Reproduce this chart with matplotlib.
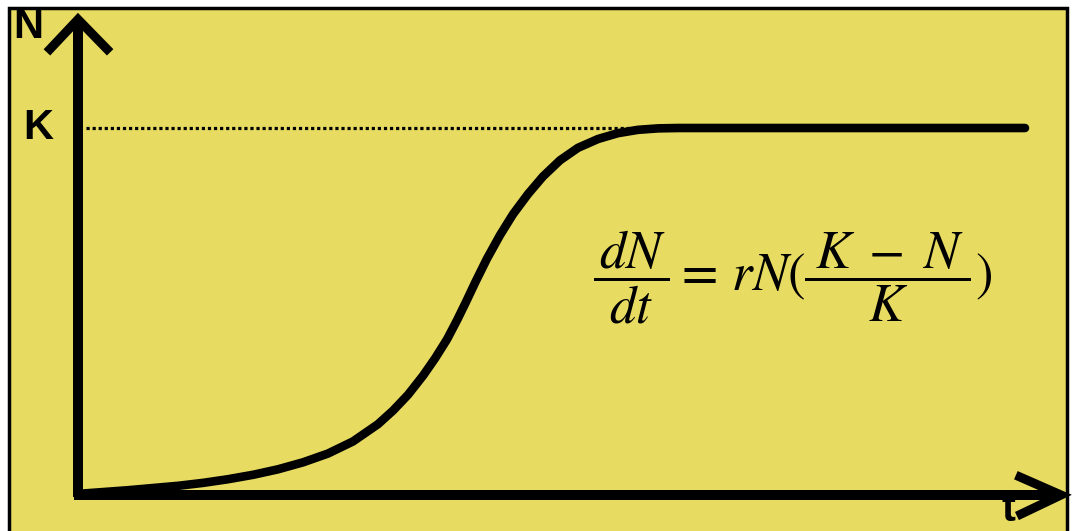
import matplotlib.pyplot as plt
from matplotlib.patches import Rectangle

# logistic growth curve (t, N), K = 100
t = [0, 0.25, 0.5, 0.75, 1.0, 1.25, 1.5, 1.75, 2.0, 2.25, 2.5, 2.75, 3.0, 3.15,
     3.3, 3.45, 3.57, 3.69, 3.79, 3.88, 3.97, 4.09, 4.22, 4.35, 4.5, 4.65,
     4.82, 5.0, 5.2, 5.4, 5.6, 5.8, 6.0, 9.47]
N = [0.3, 0.8, 1.3, 1.9, 2.5, 3.3, 4.3, 5.5, 7.0, 8.9, 11.3, 14.6, 19.3, 23.0,
     27.3, 32.5, 37.2, 42.4, 47.6, 52.6, 57.8, 64.4, 70.8, 76.5, 82.0, 86.8,
     91.2, 94.6, 97.0, 98.6, 99.5, 99.9, 100, 100]
K = 100
k_line_end = 5.62

yellow = '#E7DB62'

fig = plt.figure(figsize=(10.72, 5.31), dpi=100, facecolor='white')
fig.patches.append(Rectangle((0.008, -0.01), 0.987, 0.995, transform=fig.transFigure,
                             facecolor=yellow, edgecolor='black', lw=2.5, zorder=-1))

ax = fig.add_axes([0, 0, 1, 1])
ax.set_zorder(2)
ax.set_xlim(-0.78, 9.94)
ax.set_ylim(-9.81, 134.88)
ax.axis('off')
ax.patch.set_alpha(0)

# axes with chevron arrow heads
ax.plot([0, 0], [-0.5, 128.5], color='black', lw=7.2, solid_capstyle='butt')
ax.plot([-0.04, 9.8], [0, 0], color='black', lw=7.2, solid_capstyle='butt')
ax.plot([-0.28, 0, 0.29], [121.5, 129.6, 121.5], color='black', lw=6.5,
        solid_joinstyle='miter')
ax.plot([9.42, 9.83, 9.43], [4.9, 0, -5.2], color='black', lw=6.5,
        solid_joinstyle='miter')

# carrying capacity
ax.plot([0.08, k_line_end], [K, K], color='black', lw=2.3, ls=(0, (1, 0.9)))

# growth curve
ax.plot(t, N, color='black', lw=6.2, solid_capstyle='round', solid_joinstyle='round')

lab = dict(family='Liberation Sans', fontweight='bold', fontsize=30, color='black')
ax.text(-0.5, 127.4, 'N', ha='center', va='center', **lab)
ax.text(-0.4, 100, 'K', ha='center', va='center', **lab)
ax.text(9.3, -9.6, 't', ha='center', va='bottom', **lab)

plt.rcParams['mathtext.fontset'] = 'stix'
ax.text(7.15, 59.4,
        r'$\dfrac{\,dN\,}{\,dt\,}=\,rN(\dfrac{\;K\;-\;N\;}{K})$',
        ha='center', va='center', fontsize=38, color='black')

fig.savefig('out.png', dpi=100, facecolor='white')
